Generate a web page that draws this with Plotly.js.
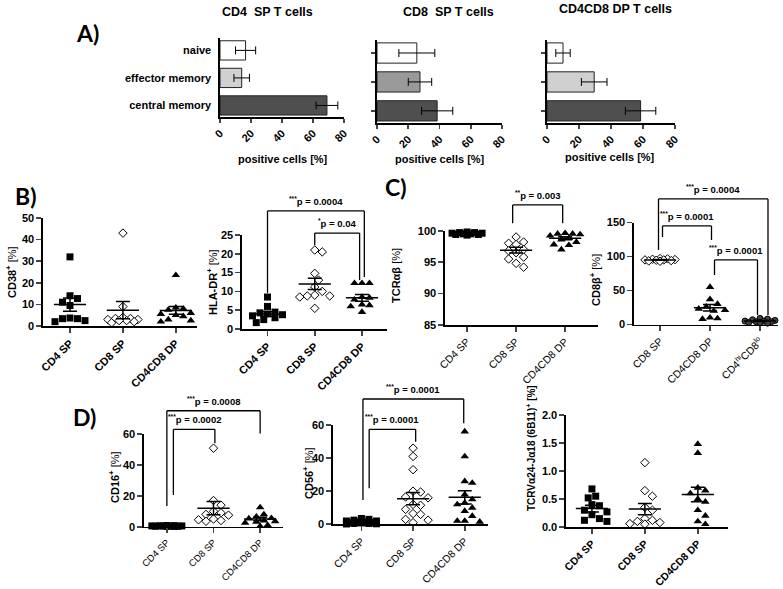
<!DOCTYPE html>
<html><head><meta charset="utf-8">
<script src="https://cdn.plot.ly/plotly-3.0.1.min.js"></script>
<style>html,body{margin:0;padding:0;background:#fff}</style>
</head><body><div id="chart" style="width:783px;height:589px"></div>
<script>
// ---------------- DATA ----------------
// Panel A: memory subsets (% positive cells), mean and error
const memSubsets = ['naive', 'effector memory', 'central memory'];
const aCD4Mean = [16.5, 14, 69];
const aCD4Err  = [6.5, 5, 7];
const aCD8Mean = [25.5, 27.5, 38.5];
const aCD8Err  = [11.5, 7.5, 10];
const aDPMean  = [10, 29.5, 58.5];
const aDPErr   = [4.5, 8, 9.5];
const positiveTicks = [0, 20, 40, 60, 80];

const spGroups = ['CD4 SP', 'CD8 SP', 'CD4CD8 DP'];
const cd8bGroups = ['CD8 SP', 'CD4CD8 DP', 'CD4<sup>hi</sup>CD8<sup>lo</sup>'];

// Panel B: CD38+
const cd38CD4 = [32, 14, 12.7, 11, 9.5, 3.7, 3.4, 3.4, 2.5, 2];
const cd38CD8 = [43, 9, 4, 3.5, 3.5, 3, 3, 2.5, 2.5, 2, 1.5];
const cd38DP  = [23.5, 8.5, 8, 7.5, 6, 5.5, 5, 4.5, 3, 2.5, 2];
const cd38Mean = [9.9, 7.3, 7.2];
const cd38Sem  = [3.1, 4.0, 1.8];
// Panel B: HLA-DR+
const hlaCD4 = [8.5, 6, 4.5, 4.3, 4, 3.8, 3.5, 3, 2.5, 1.7];
const hlaCD8 = [21, 20.5, 14.8, 13, 11.2, 10, 9, 8.8, 8.8, 8.5, 5.5];
const hlaDP  = [12.2, 12.2, 12.2, 8.5, 8.3, 7.8, 6.5, 6.3, 6, 4.5];
const hlaMean = [4.0, 12.0, 8.3];
const hlaSem  = [0.6, 1.5, 0.9];
// Panel C: TCRab
const tcrCD4 = [99.8, 99.7, 99.7, 99.6, 99.6, 99.5, 99.5, 99.4, 99.4, 99.3];
const tcrCD8 = [99, 98.2, 98, 97.8, 97, 96.8, 96.5, 95.8, 95.5, 94.8, 94.2];
const tcrDP  = [99.6, 99.5, 99.5, 99.4, 99.2, 98.8, 98.6, 98.2, 97.8, 97.7, 97.0];
const tcrMean = [99.6, 96.9, 98.8];
const tcrSem  = [0.05, 0.45, 0.25];
// Panel C: CD8b+
const cd8bCD8  = [97, 96.5, 96, 95.5, 95, 95, 94.5, 94, 93.5, 93];
const cd8bDP   = [55, 37, 30, 26, 23, 21, 20, 10, 9, 8];
const cd8bHiLo = [9, 8, 7, 6, 5, 5, 4, 4, 3, 3, 2];
const cd8bMean = [95, 24.5, 5.2];
const cd8bSem  = [0.5, 4.8, 0.7];
// Panel D: CD16+
const cd16CD4 = [0.8, 0.7, 0.6, 0.5, 0.5, 0.4, 0.4, 0.3, 0.3, 0.2, 0.2];
const cd16CD8 = [51, 17, 14, 10, 9, 8, 7.5, 5, 4.5, 4, 3.5];
const cd16DP  = [12.5, 8, 6.5, 5.5, 5.3, 4, 3.5, 3.2, 2.5, 1, 0.3];
const cd16Mean = [0.5, 12, 5];
const cd16Sem  = [0.1, 4.3, 1.2];
// Panel D: CD56+
const cd56CD4 = [3.5, 3, 2.5, 2, 2, 1.5, 1.5, 1, 1, 0.8, 0.5, 0.5, 0.3, 0.2];
const cd56CD8 = [46, 41, 33, 20, 19.5, 16.5, 16, 12, 11.5, 9, 6.5, 6, 3, 2.5, 1];
const cd56DP  = [56, 41, 26, 25, 18, 15, 13, 12, 10, 8, 5, 2, 2, 1.5];
const cd56Mean = [1.5, 15.5, 16.3];
const cd56Sem  = [0.3, 3.7, 4.0];
// Panel D: TCRVa24-Ja18 (6B11)+
const nktCD4 = [0.68, 0.55, 0.52, 0.4, 0.38, 0.3, 0.27, 0.22, 0.15, 0.12, 0.1];
const nktCD8 = [1.15, 0.65, 0.55, 0.35, 0.3, 0.15, 0.12, 0.1, 0.08, 0.06, 0.05];
const nktDP  = [1.48, 1.32, 0.7, 0.65, 0.6, 0.5, 0.45, 0.3, 0.2, 0.1, 0.05];
const nktMean = [0.33, 0.32, 0.58];
const nktSem  = [0.06, 0.1, 0.13];

// ---------------- STYLE / LAYOUT ----------------
const W = 783, H = 589;
const FONT = 'Liberation Sans, Arial, Helvetica, sans-serif';
const X = px => px / W;
const Y = py => 1 - py / H;
const LW = 1.6;

const traces = [];
const layout = {
  width: W, height: H, margin: {l: 0, r: 0, t: 0, b: 0}, showlegend: false,
  paper_bgcolor: '#fff', plot_bgcolor: 'rgba(0,0,0,0)',
  font: {family: FONT, color: '#000'},
  annotations: [], shapes: []
};
function ann(text, px, py, size, opts) {
  layout.annotations.push(Object.assign({
    text: text, xref: 'paper', yref: 'paper', x: X(px), y: Y(py),
    xanchor: 'center', yanchor: 'middle', showarrow: false,
    font: {family: FONT, size: size, color: '#000'}
  }, opts || {}));
}

// ---- Panel A (horizontal bars) ----
const aPanels = [
  {n: 1, mean: aCD4Mean, err: aCD4Err, colors: ['#ffffff', '#d0d0d0', '#4f4f4f'], px: [220, 344], py: [38, 117], labels: true,
   title: 'CD4\u00a0 SP T cells', tx: 267, ty: 12, xt: 283, yt: 159},
  {n: 2, mean: aCD8Mean, err: aCD8Err, colors: ['#ffffff', '#9a9a9a', '#4f4f4f'], px: [377, 502], py: [40, 123], labels: false,
   title: 'CD8\u00a0 SP T cells', tx: 448, ty: 12, xt: 440, yt: 159},
  {n: 3, mean: aDPMean, err: aDPErr, colors: ['#ffffff', '#d0d0d0', '#4f4f4f'], px: [547, 675], py: [40, 123], labels: false,
   title: 'CD4CD8 DP T cells', tx: 615, ty: 9, xt: 610, yt: 157}
];
aPanels.forEach(p => {
  const sx = p.n === 1 ? '' : p.n;
  traces.push({
    type: 'bar', orientation: 'h', x: p.mean, y: memSubsets,
    xaxis: 'x' + sx, yaxis: 'y' + sx, width: 0.7,
    marker: {color: p.colors, line: {color: '#222', width: 1}},
    error_x: {type: 'data', array: p.err, color: '#000', thickness: 1, width: 4},
    hoverinfo: 'none'
  });
  layout['xaxis' + sx] = {
    domain: [X(p.px[0]), X(p.px[1])], range: [0, 80], anchor: 'y' + sx,
    tickvals: positiveTicks, tickangle: -45, ticks: 'outside', ticklen: 4, tickwidth: LW,
    showline: true, linewidth: LW, linecolor: '#000', showgrid: false, zeroline: false,
    tickfont: {family: FONT, size: 11, weight: 'bold', color: '#000'}, fixedrange: true
  };
  layout['yaxis' + sx] = {
    domain: [Y(p.py[1]), Y(p.py[0])], type: 'category', categoryorder: 'array', categoryarray: memSubsets,
    range: [2.42, -0.45], anchor: 'x' + sx,
    showline: true, linewidth: LW, linecolor: '#000', showgrid: false, zeroline: false,
    ticks: p.labels ? '' : 'outside', ticklen: 4, tickwidth: LW, showticklabels: p.labels,
    ticklabelstandoff: 5,
    tickfont: {family: FONT, size: 11, weight: 'bold', color: '#000'}, fixedrange: true
  };
  ann('<b>' + p.title + '</b>', p.tx, p.ty, 12.5);
  ann('<b>positive cells [%]</b>', p.xt, p.yt, 11);
});

// ---- Scatter dot panels ----
const styles = {
  CD4: {symbol: 'square', color: '#000', line: {color: '#000', width: 0}, size: 7},
  CD8: {symbol: 'diamond', color: '#fff', line: {color: '#000', width: 1}, size: 6.5},
  DP:  {symbol: 'triangle-up', color: '#000', line: {color: '#000', width: 0}, size: 7.5},
  HL:  {symbol: 'circle', color: '#444', line: {color: '#000', width: 1}, size: 6}
};

function swarm(vals, ppu, ppc, d, maxOff) {
  const step = d / 2, cands = [0];
  for (let k = 1; k * step <= maxOff + 0.01; k++) cands.push(k * step, -k * step);
  const placed = [], out = [];
  vals.forEach(v => {
    const py = v * ppu;
    let chosen = null, best = -1, bestC = 0;
    for (const c of cands) {
      let m = Infinity;
      for (const q of placed) m = Math.min(m, Math.hypot(c - q[0], py - q[1]));
      if (m >= d) { chosen = c; break; }
      if (m > best) { best = m; bestC = c; }
    }
    if (chosen === null) chosen = bestC;
    placed.push([chosen, py]);
    out.push(chosen / ppc);
  });
  return out;
}

const dotPanels = [
  {n: 4, cats: spGroups, groups: [cd38CD4, cd38CD8, cd38DP], sty: ['CD4', 'CD8', 'DP'], mean: cd38Mean, sem: cd38Sem,
   px: [43, 197], py: [218, 326], xr: [-0.51, 2.4], yr: [0, 50], dtick: 10, xfont: {size: 11, weight: 'bold'},
   ytitle: '<b>CD38<sup>+</sup></b> [%]', yt: [11, 272], ys: 11, brackets: []},
  {n: 5, cats: spGroups, groups: [hlaCD4, hlaCD8, hlaDP], sty: ['CD4', 'CD8', 'DP'], mean: hlaMean, sem: hlaSem,
   px: [242, 387], py: [235, 329], xr: [-0.54, 2.53], yr: [0, 25], dtick: 5, xfont: {size: 11, weight: 'bold'},
   ytitle: '<b>HLA-DR<sup>+</sup></b> [%]', yt: [212, 282], ys: 11,
   brackets: [
     {x0: 0, x1: 2.05, top: 31.4, b0: 9.6, b1: 13.8, text: '<sup>***</sup>p = 0.0004'},
     {x0: 1, x1: 1.95, top: 25.5, b0: 22.3, b1: 13, text: '<sup>*</sup>p = 0.04'}]},
  {n: 6, cats: spGroups, groups: [tcrCD4, tcrCD8, tcrDP], sty: ['CD4', 'CD8', 'DP'], mean: tcrMean, sem: tcrSem,
   px: [445, 598], py: [230.7, 325], xr: [-0.45, 2.67], yr: [85, 100], dtick: 5, xfont: {size: 10.5, weight: 'normal'},
   ytitle: '<b>TCRαβ</b> [%]', yt: [396, 276], ys: 11,
   brackets: [{x0: 0.93, x1: 1.95, top: 104.1, b0: 101.2, b1: 101.2, text: '<sup>**</sup>p = 0.003'}]},
  {n: 7, cats: cd8bGroups, groups: [cd8bCD8, cd8bDP, cd8bHiLo], sty: ['CD8', 'DP', 'HL'], mean: cd8bMean, sem: cd8bSem,
   px: [634, 778], py: [222.5, 324.5], xr: [-0.52, 2.36], yr: [0, 150], dtick: 50, xfont: {size: 10.5, weight: 'normal'},
   ytitle: '<b>CD8β<sup>+</sup></b> [%]', yt: [595, 280], ys: 11,
   brackets: [
     {x0: -0.03, x1: 2.16, top: 184.6, b0: 109.6, b1: 14, text: '<sup>***</sup>p = 0.0004'},
     {x0: 0.05, x1: 1.03, top: 144.9, b0: 128.7, b1: 124.3, text: '<sup>***</sup>p = 0.0001'},
     {x0: 1.09, x1: 1.95, top: 94.9, b0: 72.8, b1: 14, text: '<sup>***</sup>p = 0.0001'}]},
  {n: 8, cats: spGroups, groups: [cd16CD4, cd16CD8, cd16DP], sty: ['CD4', 'CD8', 'DP'], mean: cd16Mean, sem: cd16Sem,
   px: [144, 283], py: [434.3, 526.7], xr: [-0.49, 2.49], yr: [0, 60], dtick: 20, xfont: {size: 9.5, weight: 'normal'},
   ytitle: '<b>CD16<sup>+</sup></b> [%]', yt: [114, 477], ys: 11,
   brackets: [
     {x0: 0, x1: 2.0, top: 75.3, b0: 13.4, b1: 60.6, text: '<sup>***</sup>p = 0.0008'},
     {x0: 0.14, x1: 1.03, top: 63.2, b0: 20.6, b1: 54.2, text: '<sup>***</sup>p = 0.0002'}]},
  {n: 9, cats: spGroups, groups: [cd56CD4, cd56CD8, cd56DP], sty: ['CD4', 'CD8', 'DP'], mean: cd56Mean, sem: cd56Sem,
   px: [333, 488], py: [425, 524.3], xr: [-0.55, 2.45], yr: [0, 60], dtick: 20, xfont: {size: 10.5, weight: 'normal'},
   ytitle: '<b>CD56<sup>+</sup></b> [%]', yt: [308, 473], ys: 11,
   brackets: [
     {x0: 0.03, x1: 1.98, top: 75.7, b0: 14.7, b1: 61, text: '<sup>***</sup>p = 0.0001'},
     {x0: 0.15, x1: 1.05, top: 57.4, b0: 21.8, b1: 49.9, text: '<sup>***</sup>p = 0.0001'}]},
  {n: 10, cats: spGroups, groups: [nktCD4, nktCD8, nktDP], sty: ['CD4', 'CD8', 'DP'], mean: nktMean, sem: nktSem,
   px: [566, 728], py: [415, 527], xr: [-0.49, 2.57], yr: [0, 2], dtick: 0.5, xfont: {size: 10.5, weight: 'bold'},
   ytitle: '<b>TCRVα24-Jα18 (6B11)<sup>+</sup> [%]</b>', yt: [531, 448], ys: 10, brackets: []}
];

dotPanels.forEach(p => {
  const xa = 'x' + p.n, ya = 'y' + p.n;
  const ppu = (p.py[1] - p.py[0]) / (p.yr[1] - p.yr[0]);
  const ppc = (p.px[1] - p.px[0]) / (p.xr[1] - p.xr[0]);
  p.groups.forEach((vals, gi) => {
    const st = styles[p.sty[gi]];
    const offs = swarm(vals, ppu, ppc, 7.5, 16);
    traces.push({
      type: 'scatter', mode: 'markers', xaxis: xa, yaxis: ya, cliponaxis: false,
      x: offs.map(o => gi + o), y: vals,
      marker: {symbol: st.symbol, color: st.color, size: st.size, line: st.line},
      hoverinfo: 'none'
    });
  });
  traces.push({
    type: 'scatter', mode: 'markers', xaxis: xa, yaxis: ya, cliponaxis: false,
    x: p.cats.map((c, i) => i), y: p.mean,
    marker: {symbol: 'line-ew', size: 23, color: '#000', line: {color: '#000', width: 1.5}},
    error_y: {type: 'data', array: p.sem, color: '#000', thickness: 1.5, width: 7},
    hoverinfo: 'none'
  });
  layout['xaxis' + p.n] = {
    domain: [X(p.px[0]), X(p.px[1])], range: p.xr, anchor: ya,
    tickvals: p.cats.map((c, i) => i), ticktext: p.cats, tickangle: -45,
    ticks: 'outside', ticklen: 5, tickwidth: LW, showline: true, linewidth: LW, linecolor: '#000',
    showgrid: false, zeroline: false, fixedrange: true,
    tickfont: Object.assign({family: FONT, color: '#000'}, p.xfont)
  };
  layout['yaxis' + p.n] = {
    domain: [Y(p.py[1]), Y(p.py[0])], range: p.yr, anchor: xa, dtick: p.dtick, tick0: p.yr[0],
    tickformat: p.dtick < 1 ? '.1f' : '',
    ticks: 'outside', ticklen: 5, tickwidth: LW, showline: true, linewidth: LW, linecolor: '#000',
    showgrid: false, zeroline: false, fixedrange: true,
    tickfont: {family: FONT, size: 11, weight: 'bold', color: '#000'}
  };
  ann(p.ytitle, p.yt[0], p.yt[1], p.ys, {textangle: -90});
  const yd = v => (v - p.yr[0]) / (p.yr[1] - p.yr[0]);
  p.brackets.forEach(b => {
    const ln = (x0, y0, x1, y1) => layout.shapes.push({
      type: 'line', xref: xa, yref: ya + ' domain', x0: x0, x1: x1, y0: yd(y0), y1: yd(y1),
      line: {color: '#000', width: 1.3}
    });
    ln(b.x0, b.b0, b.x0, b.top);
    ln(b.x0, b.top, b.x1, b.top);
    ln(b.x1, b.top, b.x1, b.b1);
    layout.annotations.push({
      text: '<b>' + b.text + '</b>', xref: xa, yref: ya + ' domain', x: (b.x0 + b.x1) / 2, y: yd(b.top),
      xanchor: 'center', yanchor: 'bottom', yshift: 2, showarrow: false,
      font: {family: FONT, size: 9.5, color: '#000'}
    });
  });
});

// panel letters
const LFONT = 'Lato, Liberation Sans, sans-serif';
ann('<b>A)</b>', 87, 33, 23, {font: {family: LFONT, size: 23, color: '#000'}});
ann('<b>B)</b>', 25, 196, 23, {font: {family: LFONT, size: 23, color: '#000'}});
ann('<b>C)</b>', 396, 187, 23, {font: {family: LFONT, size: 23, color: '#000'}});
ann('<b>D)</b>', 84, 417, 23, {font: {family: LFONT, size: 23, color: '#000'}});

Plotly.newPlot('chart', traces, layout, {staticPlot: true, displayModeBar: false});
</script></body></html>
